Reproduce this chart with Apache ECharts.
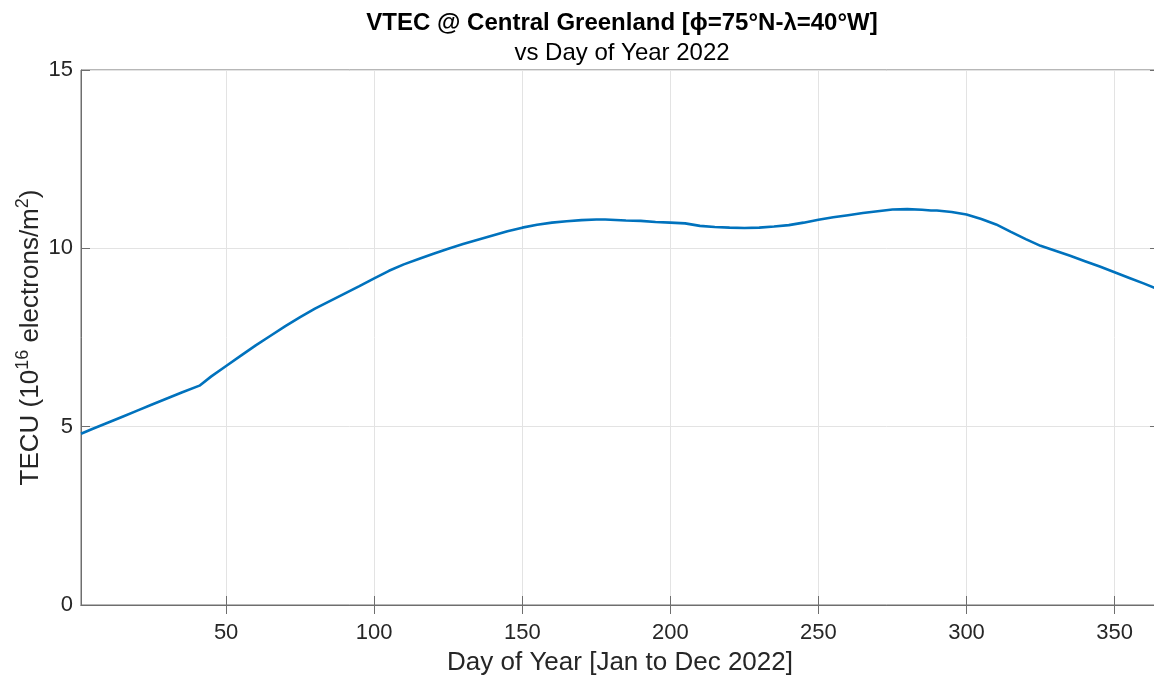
<!DOCTYPE html>
<html>
<head>
<meta charset="utf-8">
<script src="https://cdn.jsdelivr.net/npm/echarts@6/dist/echarts.min.js"></script>
<style>
html,body{margin:0;padding:0;background:#fff;}
#chart{width:1154px;height:676px;}
</style>
</head>
<body>
<div id="chart"></div>
<script>
const days = [1,5,10,15,20,25,30,35,41,45,50,55,60,65,70,75,80,85,90,95,100,105,110,115,120,125,130,135,140,145,150,155,160,165,170,175,178,185,190,195,200,205,210,215,220,225,230,235,240,245,250,255,260,265,270,275,280,285,288,290,295,300,305,310,315,320,325,330,335,340,345,350,355,360,365];
const vtec = [4.80,4.94,5.11,5.28,5.45,5.62,5.79,5.96,6.15,6.41,6.70,6.99,7.28,7.55,7.82,8.07,8.31,8.52,8.73,8.94,9.16,9.37,9.55,9.70,9.85,9.99,10.12,10.24,10.36,10.48,10.58,10.66,10.72,10.76,10.79,10.81,10.81,10.78,10.77,10.74,10.72,10.70,10.63,10.60,10.58,10.57,10.58,10.61,10.65,10.72,10.80,10.87,10.93,10.99,11.04,11.09,11.10,11.08,11.06,11.06,11.02,10.95,10.82,10.67,10.46,10.26,10.07,9.93,9.79,9.64,9.49,9.33,9.17,9.01,8.84];
const xTicks = [50,100,150,200,250,300,350];
const yTicks = [0,5,10,15];
const titleText = 'VTEC @ Central Greenland [\u03d5=75\u00b0N-\u03bb=40\u00b0W]';
const subtitleText = 'vs Day of Year 2022';
const xName = 'Day of Year [Jan to Dec 2022]';

const FONT = 'Liberation Sans, Arial, Helvetica, sans-serif';
const TXT = '#262626';
const AX = '#6e6e6e';
const GRIDC = '#e3e3e3';

const chart = echarts.init(document.getElementById('chart'), null, {renderer:'canvas'});
const data = days.map((d,i)=>[d, vtec[i]]);

const option = {
  backgroundColor:'#fff',
  animation:false,
  title:{
    text: titleText,
    subtext: subtitleText,
    left: 617, textAlign:'center',
    top: 6,
    itemGap: 6,
    textStyle:{fontFamily:FONT,fontSize:24,fontWeight:'bold',color:'#000'},
    subtextStyle:{fontFamily:FONT,fontSize:24,color:'#000'}
  },
  grid:{left:81, top:70, right:-5, bottom:71, show:true, borderColor:AX, borderWidth:1,
        outerBoundsMode:'none', containLabel:false},
  xAxis:[{
    type:'value', min:1, max:365,
    axisLine:{show:true,lineStyle:{color:AX,width:1}},
    axisTick:{show:true,inside:true,length:9,customValues:xTicks,lineStyle:{color:AX}},
    axisLabel:{customValues:xTicks,fontFamily:FONT,fontSize:22,color:TXT,margin:17},
    splitLine:{show:true,lineStyle:{color:GRIDC,width:1}},
    name:xName, nameLocation:'middle', nameGap:45, nameMoveOverlap:false,
    nameTextStyle:{fontFamily:FONT,fontSize:26,color:TXT}
  },{
    type:'value', min:1, max:365, position:'top',
    axisLine:{show:true,lineStyle:{color:AX}},
    axisTick:{show:true,inside:true,length:9,customValues:xTicks,lineStyle:{color:AX}},
    axisLabel:{show:false},
    splitLine:{show:false}
  }],
  yAxis:[{
    type:'value', min:0, max:15, interval:5,
    axisLine:{show:true,lineStyle:{color:AX,width:1}},
    axisTick:{show:true,inside:true,length:9,lineStyle:{color:AX}},
    axisLabel:{fontFamily:FONT,fontSize:22,color:TXT,margin:8},
    splitLine:{show:true,lineStyle:{color:GRIDC,width:1}},
    name:'{a|TECU (10}{s|16}{a| electrons/m}{s|2}{a|)}',
    nameLocation:'middle', nameRotate:90, nameGap:37, nameMoveOverlap:false,
    nameTextStyle:{fontFamily:FONT,fontSize:26,color:TXT,
      rich:{
        a:{fontFamily:FONT,fontSize:26,color:TXT,lineHeight:30,verticalAlign:'bottom'},
        s:{fontFamily:FONT,fontSize:18,color:TXT,lineHeight:30,verticalAlign:'top'}
      }}
  },{
    type:'value', min:0, max:15, interval:5, position:'right',
    axisLine:{show:true,lineStyle:{color:AX}},
    axisTick:{show:true,inside:true,length:9,lineStyle:{color:AX}},
    axisLabel:{show:false},
    splitLine:{show:false}
  }],
  series:[{
    type:'line', data:data, xAxisIndex:0, yAxisIndex:0,
    showSymbol:false, smooth:false,
    lineStyle:{color:'#0072BD', width:2.6},
    clip:true
  }]
};
chart.setOption(option);
</script>
</body>
</html>
